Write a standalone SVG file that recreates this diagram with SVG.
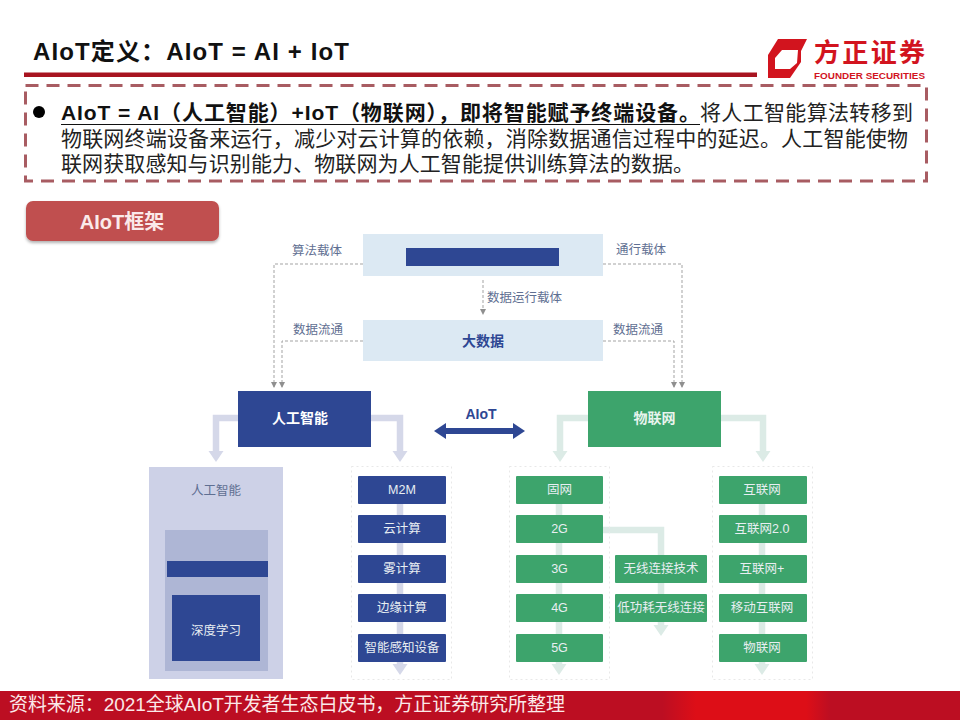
<svg xmlns="http://www.w3.org/2000/svg" width="960" height="720" viewBox="0 0 960 720">
<style>
text{font-family:"Liberation Sans","Noto Sans CJK SC",sans-serif}
.mid{text-anchor:middle}
.body{font-size:21px;fill:#222}
.strong{font-size:21px;font-weight:700;fill:#111}
.lab{font-size:12.500px;fill:#5f6f92;text-anchor:middle}
.wht{font-size:12.500px;fill:#e8eef2;text-anchor:middle}
.navy{fill:#2e4793}
.green{fill:#3da46c}
.pale{fill:#dce9f3}
.dash{fill:none;stroke:#a3a3a3;stroke-width:1;stroke-dasharray:3 2}
.thickb{fill:none;stroke:#d5d8e9;stroke-width:6.500}
.thickg{fill:none;stroke:#dcebe6;stroke-width:6.500}
.dot{fill:none;stroke:#e8e8e8;stroke-width:1;stroke-dasharray:2 3}
</style>
<defs>
<linearGradient id="foot" x1="0" x2="1" y1="0" y2="0">
<stop offset="0" stop-color="#bc0e22"/><stop offset="0.69" stop-color="#bc0e22"/><stop offset="0.725" stop-color="#dd0e17"/><stop offset="0.84" stop-color="#dd0e17"/><stop offset="0.865" stop-color="#bc0e22"/><stop offset="1" stop-color="#bc0e22"/>
</linearGradient>
<filter id="sh" x="-5%" y="-10%" width="110%" height="130%"><feDropShadow dx="0" dy="2" stdDeviation="1.500" flood-color="#000" flood-opacity="0.3"/></filter>
<marker id="tri" markerWidth="7" markerHeight="6" refX="5" refY="3" orient="auto" markerUnits="userSpaceOnUse"><path d="M0 0L6 3L0 6Z" fill="#8f8f8f"/></marker>
<marker id="hb" markerWidth="12" markerHeight="16" refX="0" refY="8" orient="auto" markerUnits="userSpaceOnUse"><path d="M0 0.500L11 8L0 15.500Z" fill="#d5d8e9"/></marker>
<marker id="hg" markerWidth="12" markerHeight="16" refX="0" refY="8" orient="auto" markerUnits="userSpaceOnUse"><path d="M0 0.500L11 8L0 15.500Z" fill="#dcebe6"/></marker>
</defs>
<rect width="960" height="720" fill="#fff"/>

<g id="header">
<text x="33" y="60" font-size="24" font-weight="700" fill="#111" textLength="316" lengthAdjust="spacing">AIoT定义&#xFF1A;AIoT = AI + IoT</text>
<rect x="24" y="72.500" width="733" height="4.500" fill="#a81420"/>
</g>
<g id="logo">
<path fill-rule="evenodd" fill="#d2141e" d="M778 39H807L801 51V62L790 78H768V55ZM782 50L775 58V69H790L797 63L798 50Z"/>
<text x="814" y="62" font-size="26" font-weight="700" fill="#d2141e" textLength="111" lengthAdjust="spacing" style="font-family:'Noto Sans CJK SC',sans-serif">方正证券</text>
<text x="814" y="79" font-size="9" font-weight="700" fill="#d2141e" textLength="111" lengthAdjust="spacingAndGlyphs">FOUNDER SECURITIES</text>
</g>

<g id="intro">
<rect x="25.500" y="85.500" width="901" height="95.500" fill="none" stroke="#a85c62" stroke-width="3" stroke-dasharray="13 8"/>
<circle cx="39" cy="112" r="6" fill="#000"/>
<text x="61" y="120" class="strong" textLength="639" lengthAdjust="spacing">AIoT = AI&#xFF08;人工智能&#xFF09;+IoT&#xFF08;物联网&#xFF09;&#xFF0C;即将智能赋予终端设备。</text>
<rect x="61" y="124" width="639" height="1" fill="#111"/>
<text x="700" y="120" class="body" textLength="213" lengthAdjust="spacing">将人工智能算法转移到</text>
<text x="61" y="146" class="body" textLength="847" lengthAdjust="spacing">物联网终端设备来运行&#xFF0C;减少对云计算的依赖&#xFF0C;消除数据通信过程中的延迟。人工智能使物</text>
<text x="61" y="171" class="body" textLength="633" lengthAdjust="spacing">联网获取感知与识别能力、物联网为人工智能提供训练算法的数据。</text>
</g>

<g id="tab">
<rect x="26" y="201" width="193" height="40" rx="7" fill="#c0504f" filter="url(#sh)"/>
<text x="122" y="229" class="mid" font-size="20" font-weight="700" fill="#fbeaea">AIoT框架</text>
</g>

<g id="connectors">
<path class="dash" d="M363 264H274V387" marker-end="url(#tri)"/>
<path class="dash" d="M363 341H282V387" marker-end="url(#tri)"/>
<path class="dash" d="M603 264H682V387" marker-end="url(#tri)"/>
<path class="dash" d="M603 341H674V387" marker-end="url(#tri)"/>
<path class="dash" d="M483 280V314" marker-end="url(#tri)"/>
<path class="thickb" d="M238 418H216V451" marker-end="url(#hb)"/>
<path class="thickb" d="M371 418H400V451" marker-end="url(#hb)"/>
<path class="thickg" d="M588 418H560V451" marker-end="url(#hg)"/>
<path class="thickg" d="M721 418H763V451" marker-end="url(#hg)"/>
<path class="thickb" d="M400 504V664" marker-end="url(#hb)"/>
<path class="thickg" d="M559 504V664" marker-end="url(#hg)"/>
<path class="thickg" d="M603 530H661V625" marker-end="url(#hg)"/>
<path class="thickg" d="M762 504V664" marker-end="url(#hg)"/>
<path d="M434 431L446 423V428H513V423L525 431L513 439V434H446V439Z" fill="#2e4793"/>
</g>

<g id="label-suanfa"><text x="317" y="255" class="lab">算法载体</text></g>
<g id="label-tongxing"><text x="641" y="254" class="lab">通行载体</text></g>
<g id="label-yunxing"><text x="524.500" y="302" class="lab">数据运行载体</text></g>
<g id="label-liutong-l"><text x="318" y="334" class="lab">数据流通</text></g>
<g id="label-liutong-r"><text x="638" y="334" class="lab">数据流通</text></g>
<g id="label-aiot"><text x="481" y="419" class="mid" font-size="14" font-weight="700" fill="#2e4793">AIoT</text></g>

<g id="carrier">
<rect x="363" y="234" width="240" height="42" class="pale"/>
<rect x="406" y="248" width="153" height="18" class="navy"/>
</g>
<g id="bigdata">
<rect x="363" y="320" width="240" height="41" class="pale"/>
<text x="483" y="346" class="mid" font-size="14" font-weight="700" fill="#2e4793">大数据</text>
</g>
<g id="ai">
<rect x="238" y="391" width="133" height="56" class="navy"/>
<text x="300" y="423" class="mid" font-size="14" font-weight="700" fill="#fff">人工智能</text>
</g>
<g id="iot">
<rect x="588" y="391" width="133" height="56" class="green"/>
<text x="654.500" y="423" class="mid" font-size="14" font-weight="700" fill="#e8f4ee">物联网</text>
</g>

<g id="ai-panel">
<rect x="149" y="467" width="134" height="212" fill="#cdd1e7"/>
<text x="216" y="495" class="lab">人工智能</text>
<rect x="165" y="530" width="103" height="141" fill="#aeb6d5"/>
<rect x="167" y="561" width="101" height="16" class="navy"/>
<rect x="172" y="595" width="88" height="66" class="navy"/>
<text x="216" y="635" class="wht">深度学习</text>
</g>

<g id="col-ai">
<rect x="351.500" y="466.500" width="100" height="213" class="dot"/>
<rect x="358" y="476" width="88" height="28" rx="1" class="navy"/><text x="402" y="494" class="wht">M2M</text>
<rect x="358" y="515" width="88" height="28" rx="1" class="navy"/><text x="402" y="533" class="wht">云计算</text>
<rect x="358" y="555" width="88" height="28" rx="1" class="navy"/><text x="402" y="573" class="wht">雾计算</text>
<rect x="358" y="594" width="88" height="28" rx="1" class="navy"/><text x="402" y="612" class="wht">边缘计算</text>
<rect x="358" y="634" width="88" height="28" rx="1" class="navy"/><text x="402" y="652" class="wht">智能感知设备</text>
</g>

<g id="col-net">
<rect x="509.500" y="466.500" width="100" height="213" class="dot"/>
<rect x="516" y="476" width="87" height="28" rx="1" class="green"/><text x="559.500" y="494" class="wht">固网</text>
<rect x="516" y="515" width="87" height="28" rx="1" class="green"/><text x="559.500" y="533" class="wht">2G</text>
<rect x="516" y="555" width="87" height="28" rx="1" class="green"/><text x="559.500" y="573" class="wht">3G</text>
<rect x="516" y="594" width="87" height="28" rx="1" class="green"/><text x="559.500" y="612" class="wht">4G</text>
<rect x="516" y="634" width="87" height="28" rx="1" class="green"/><text x="559.500" y="652" class="wht">5G</text>
</g>

<g id="col-wireless">
<rect x="615" y="555" width="92" height="28" rx="1" class="green"/><text x="661" y="573" class="wht">无线连接技术</text>
<rect x="615" y="594" width="92" height="28" rx="1" class="green"/><text x="661" y="612" class="wht">低功耗无线连接</text>
</g>

<g id="col-web">
<rect x="712.500" y="466.500" width="100" height="213" class="dot"/>
<rect x="719" y="476" width="88" height="28" rx="1" class="green"/><text x="762" y="494" class="wht">互联网</text>
<rect x="719" y="515" width="88" height="28" rx="1" class="green"/><text x="762" y="533" class="wht">互联网2.0</text>
<rect x="719" y="555" width="88" height="28" rx="1" class="green"/><text x="762" y="573" class="wht">互联网+</text>
<rect x="719" y="594" width="88" height="28" rx="1" class="green"/><text x="762" y="612" class="wht">移动互联网</text>
<rect x="719" y="634" width="88" height="28" rx="1" class="green"/><text x="762" y="652" class="wht">物联网</text>
</g>

<g id="footer">
<rect x="0" y="691" width="960" height="29" fill="url(#foot)"/>
<text x="9" y="711" font-size="19" fill="#fbe9e9" textLength="556" lengthAdjust="spacing">资料来源&#xFF1A;2021全球AIoT开发者生态白皮书&#xFF0C;方正证券研究所整理</text>
</g>
</svg>
